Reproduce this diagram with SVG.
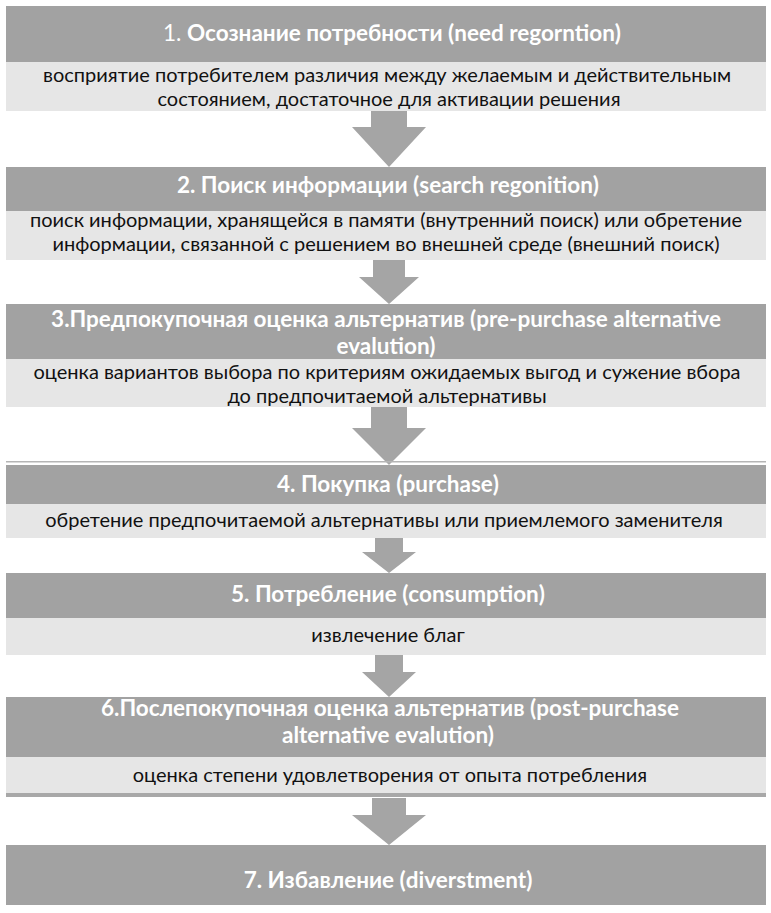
<svg xmlns="http://www.w3.org/2000/svg" width="771" height="913" viewBox="0 0 771 913">
<style>
.hd{fill:#a2a2a2}
.ds{fill:#e6e6e6}
.ar{fill:#a5a5a5}
.t{font-family:Lato,"Liberation Sans",sans-serif;font-weight:bold;font-size:22.5px;fill:#ffffff;text-anchor:middle}
.d{font-family:Lato,"Liberation Sans",sans-serif;font-size:20px;fill:#111111;text-anchor:middle}
.n{font-weight:normal}
</style>
<rect width="771" height="913" fill="#ffffff"/>
<g id="connectors">
<polygon class="ar" points="371,111 407,111 407,127 426,127 389,167 352,127 371,127"/>
<polygon class="ar" points="373,260 405,260 405,277 419,277 389,304 359,277 373,277"/>
<polygon class="ar" points="371,407 407,407 407,428 426,428 389,465 352,428 371,428"/>
<polygon class="ar" points="375,538 403,538 403,552 416,552 389,573 362,552 375,552"/>
<polygon class="ar" points="375,655 403,655 403,672 416,672 389,697 362,672 375,672"/>
<polygon class="ar" points="372,798 406,798 406,815 426,815 389,845 352,815 372,815"/>
</g>
<g id="step1">
<rect class="hd" x="6" y="6" width="760" height="56"/>
<rect class="ds" x="6" y="62" width="760" height="49"/>
<text class="t" x="392" y="41"><tspan class="n">1. </tspan>Осознание потребности (need regorntion)</text>
<text class="d" x="387" y="82">восприятие потребителем различия между желаемым и действительным</text>
<text class="d" x="389" y="106">состоянием, достаточное для активации решения</text>
</g>
<g id="step2">
<rect class="hd" x="6" y="167" width="760" height="44"/>
<rect class="ds" x="6" y="211" width="760" height="49"/>
<text class="t" x="388" y="193">2. Поиск информации (search regonition)</text>
<text class="d" x="386" y="227">поиск информации, хранящейся в памяти (внутренний поиск) или обретение</text>
<text class="d" x="386" y="251">информации, связанной с решением во внешней среде (внешний поиск)</text>
</g>
<g id="step3">
<rect class="hd" x="6" y="304" width="760" height="55"/>
<rect class="ds" x="6" y="359" width="760" height="48"/>
<text class="t" x="386" y="327">3.Предпокупочная оценка альтернатив (pre-purchase alternative</text>
<text class="t" x="386" y="354">evalution)</text>
<text class="d" x="387" y="379">оценка вариантов выбора по критериям ожидаемых выгод и сужение вбора</text>
<text class="d" x="387" y="403">до предпочитаемой альтернативы</text>
</g>
<g id="step4">
<rect x="6" y="461" width="760" height="1.5" fill="#b5b5b5"/>
<rect class="hd" x="6" y="465" width="760" height="39"/>
<rect class="ds" x="6" y="504" width="760" height="34"/>
<text class="t" x="388" y="492">4. Покупка (purchase)</text>
<text class="d" x="384" y="527">обретение предпочитаемой альтернативы или приемлемого заменителя</text>
</g>
<g id="step5">
<rect class="hd" x="6" y="573" width="760" height="45"/>
<rect class="ds" x="6" y="618" width="760" height="37"/>
<text class="t" x="388" y="602">5. Потребление (consumption)</text>
<text class="d" x="388" y="642">извлечение благ</text>
</g>
<g id="step6">
<rect class="hd" x="6" y="697" width="760" height="60"/>
<rect class="ds" x="6" y="757" width="760" height="36"/>
<rect x="6" y="793" width="760" height="4" fill="#a8a8a8"/>
<text class="t" x="390" y="716">6.Послепокупочная оценка альтернатив (post-purchase</text>
<text class="t" x="388" y="743">alternative evalution)</text>
<text class="d" x="390" y="782">оценка степени удовлетворения от опыта потребления</text>
</g>
<g id="step7">
<rect class="hd" x="6" y="845" width="760" height="60"/>
<text class="t" x="388" y="888">7. Избавление (diverstment)</text>
</g>
</svg>
